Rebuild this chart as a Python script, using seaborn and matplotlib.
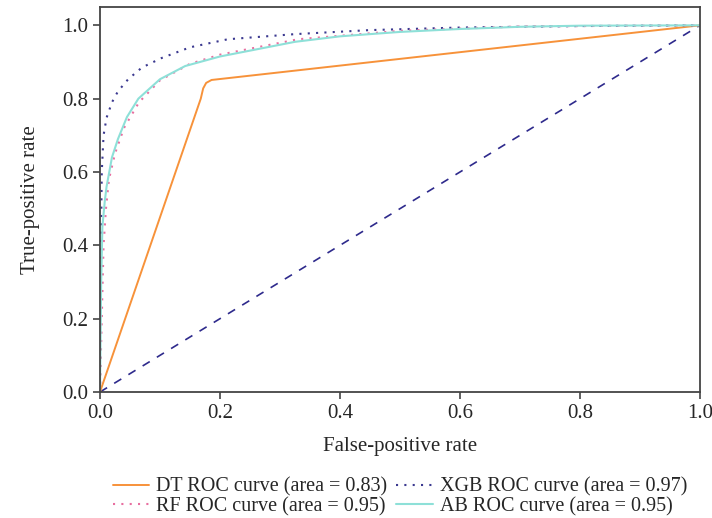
import matplotlib
matplotlib.use('Agg')
import matplotlib.pyplot as plt
import numpy as np
import pandas as pd
import seaborn as sns

# ROC curves
dt_fpr = [0.0, 0.168, 0.172, 0.177, 0.186, 1.0]
dt_tpr = [0.0, 0.800, 0.828, 0.843, 0.851, 1.0]

xgb_fpr = [0.0, 0.001, 0.003, 0.006, 0.011, 0.02, 0.03, 0.047, 0.07, 0.103, 0.15, 0.213, 0.325, 0.45, 0.6, 0.8, 1.0]
xgb_tpr = [0.0, 0.30, 0.60, 0.70, 0.748, 0.79, 0.82, 0.853, 0.885, 0.911, 0.94, 0.962, 0.976, 0.987, 0.994, 0.998, 1.0]

rf_fpr = [0.0, 0.003, 0.006, 0.01, 0.015, 0.025, 0.04, 0.065, 0.1, 0.15, 0.2, 0.33, 0.5, 0.7, 1.0]
rf_tpr = [0.0, 0.20, 0.40, 0.50, 0.58, 0.65, 0.72, 0.79, 0.85, 0.895, 0.92, 0.962, 0.985, 0.997, 1.0]

ab_fpr = [0.0, 0.002, 0.004, 0.008, 0.011, 0.02, 0.03, 0.045, 0.064, 0.1, 0.142, 0.2, 0.325, 0.4, 0.5, 0.6, 0.7, 0.8, 1.0]
ab_tpr = [0.0, 0.30, 0.45, 0.52, 0.56, 0.64, 0.69, 0.75, 0.80, 0.853, 0.889, 0.915, 0.955, 0.970, 0.982, 0.990, 0.996, 0.999, 1.0]

chance = [0.0, 1.0]

labels = ['DT ROC curve (area = 0.83)', 'XGB ROC curve (area = 0.97)',
          'RF ROC curve (area = 0.95)', 'AB ROC curve (area = 0.95)']

sns.set_style('ticks')
plt.rcParams['font.family'] = ['Liberation Serif', 'DejaVu Serif']
FS = 15

fig = plt.figure(figsize=(7.12, 5.18), dpi=100)
ax = fig.add_axes([0.1404, 0.2432, 0.8427, 0.7433])

sns.lineplot(x=chance, y=chance, ax=ax, color='#2e2a8c', lw=1.2, linestyle=(0, (5, 5)), label='_nolegend_')
sns.lineplot(x=dt_fpr, y=dt_tpr, ax=ax, sort=False, estimator=None, color='#f7923a', lw=1.4, label=labels[0])
sns.lineplot(x=xgb_fpr, y=xgb_tpr, ax=ax, sort=False, estimator=None, color='#3b3990', lw=1.5, linestyle=(0, (1, 3)), label=labels[1])
sns.lineplot(x=rf_fpr, y=rf_tpr, ax=ax, sort=False, estimator=None, color='#e86fa0', lw=1.5, linestyle=(0, (1, 3)), label=labels[2])
sns.lineplot(x=ab_fpr, y=ab_tpr, ax=ax, sort=False, estimator=None, color='#8ee0d8', lw=1.5, label=labels[3])

ax.set_xlim(0, 1.0)
ax.set_ylim(0, 1.05)
ax.set_xticks(np.arange(0, 1.01, 0.2))
ax.set_yticks(np.arange(0, 1.01, 0.2))
ax.set_xlabel('False-positive rate', fontsize=FS, labelpad=10)
ax.set_ylabel('True-positive rate', fontsize=FS, labelpad=16)
ax.tick_params(labelsize=FS, length=5, width=1.2, color='#444444')
for s in ax.spines.values():
    s.set_color('#444444')
    s.set_linewidth(1.3)

# legend fills columns first: order so rows read DT | XGB, RF | AB
handles, labs = ax.get_legend_handles_labels()
order = [labs.index(labels[i]) for i in (0, 2, 1, 3)]
ax.legend([handles[i] for i in order], [labs[i] for i in order],
          loc='upper center', bbox_to_anchor=(0.5, -0.222), ncol=2, frameon=False,
          fontsize=14.5, handlelength=1.8, handletextpad=0.35, columnspacing=0.45,
          labelspacing=0.02, borderaxespad=0, borderpad=0)

fig.savefig('out.png', dpi=100)
